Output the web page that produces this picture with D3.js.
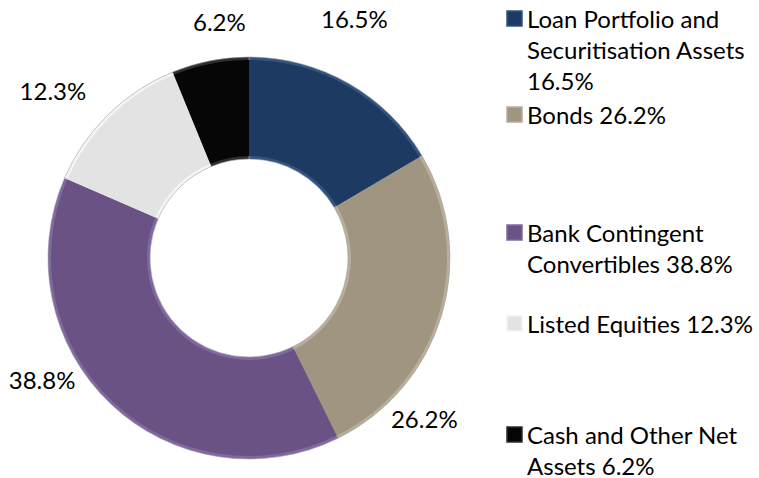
<!DOCTYPE html>
<html>
<head>
<meta charset="utf-8">
<script src="https://cdn.jsdelivr.net/npm/d3@7"></script>
<style>
  body { margin: 0; background: #fff; }
  text { font-family: Lato, "Open Sans", sans-serif; fill: #000; }
</style>
</head>
<body>
<div id="chart"></div>
<script>
// chart data, clockwise from 12 o'clock
var categories = ["Loan Portfolio and Securitisation Assets", "Bonds", "Bank Contingent Convertibles", "Listed Equities", "Cash and Other Net Assets"];
var values = [16.5, 26.2, 38.8, 12.3, 6.2];
var legendLines = [
    ["Loan Portfolio and", "Securitisation Assets", "16.5%"],
    ["Bonds 26.2%"],
    ["Bank Contingent", "Convertibles 38.8%"],
    ["Listed Equities 12.3%"],
    ["Cash and Other Net", "Assets 6.2%"]
];

// look
var colors = ["#1d3a63", "#a09580", "#6a5384", "#e3e3e3", "#060606"];
var edges = ["#34547f", "#b8ae9a", "#8069a0", "#f4f4f4", "#2e2e2e"];

var width = 759, height = 478;
var cx = 249, cy = 258, outerR = 201, innerR = 99;

// label nudges (degrees off slice middle, distance from centre)
var labelPlace = [[-6, 262], [26, 238], [16, 240], [-5, 258], [4, 238]];
var legendTop = [18, 114, 232, 323, 434];
var lineGap = 31;

var svg = d3.select("#chart").append("svg")
    .attr("width", width)
    .attr("height", height);

var pie = d3.pie().sort(null).value(function(d) { return d; });
var arcs = pie(values);

var arc = d3.arc().innerRadius(innerR).outerRadius(outerR);
var arcInner = d3.arc().innerRadius(innerR + 3).outerRadius(outerR - 3);

var g = svg.append("g").attr("transform", "translate(" + cx + "," + cy + ")");

// slices
g.selectAll("path.slice")
    .data(arcs)
    .enter().append("path")
    .attr("class", "slice")
    .attr("d", arc)
    .attr("fill", function(d, i) { return edges[i]; })
    .attr("stroke", "#a0a0a0")
    .attr("stroke-width", 0.6);

// inner face for a slight bevel look
g.selectAll("path.face")
    .data(arcs)
    .enter().append("path")
    .attr("class", "face")
    .attr("d", arcInner)
    .attr("fill", function(d, i) { return colors[i]; });

// data labels
g.selectAll("text.label")
    .data(arcs)
    .enter().append("text")
    .attr("class", "label")
    .attr("text-anchor", "middle")
    .attr("dominant-baseline", "central")
    .attr("font-size", 24)
    .attr("x", function(d, i) {
        var a = (d.startAngle + d.endAngle) / 2 + labelPlace[i][0] * Math.PI / 180;
        return Math.sin(a) * labelPlace[i][1];
    })
    .attr("y", function(d, i) {
        var a = (d.startAngle + d.endAngle) / 2 + labelPlace[i][0] * Math.PI / 180;
        return -Math.cos(a) * labelPlace[i][1];
    })
    .text(function(d) { return d.data.toFixed(1) + "%"; });

// legend
var legend = svg.selectAll("g.legend")
    .data(categories)
    .enter().append("g")
    .attr("class", "legend")
    .attr("transform", function(d, i) { return "translate(507," + legendTop[i] + ")"; });

legend.append("rect")
    .attr("x", 0)
    .attr("y", -7)
    .attr("width", 15)
    .attr("height", 15)
    .attr("fill", function(d, i) { return colors[i]; })
    .attr("stroke", function(d, i) { return edges[i]; })
    .attr("stroke-width", 1.5);

legend.selectAll("text")
    .data(function(d, i) { return legendLines[i]; })
    .enter().append("text")
    .attr("x", 20)
    .attr("y", function(d, j) { return j * lineGap; })
    .attr("dominant-baseline", "central")
    .attr("font-size", 24)
    .text(function(d) { return d; });
</script>
</body>
</html>
